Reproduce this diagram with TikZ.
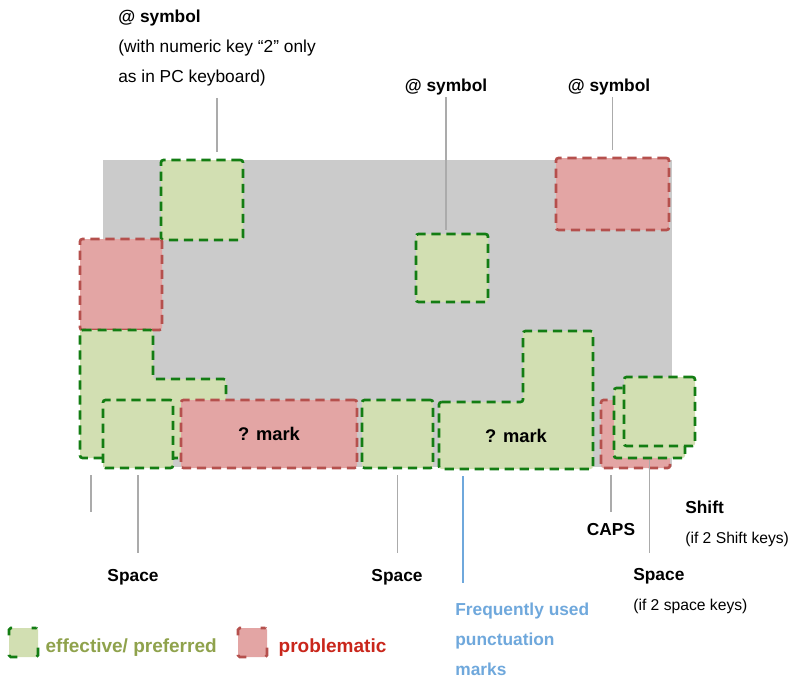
\documentclass[tikz,border=0pt]{standalone}
\usepackage{fontspec}
\setmainfont{Liberation Sans}
\usetikzlibrary{positioning,fit}
\definecolor{keygray}{HTML}{CBCBCB}
\definecolor{goodfill}{HTML}{D2DFB2}
\definecolor{gooddraw}{HTML}{137D13}
\definecolor{badfill}{HTML}{E3A5A4}
\definecolor{baddraw}{HTML}{B5504D}
\definecolor{goodtext}{HTML}{8FA24C}
\definecolor{badtext}{HTML}{C9261B}
\definecolor{notetext}{HTML}{6FA8DC}
\definecolor{leadgray}{HTML}{ABABAB}
\tikzset{keybase/.style={line width=1.6pt,dash pattern=on 5.5pt off 3.5pt,rounded corners=1.5pt},
 goodkey/.style={keybase,draw=gooddraw,fill=goodfill},badkey/.style={keybase,draw=baddraw,fill=badfill},
 keyfit/.style={inner sep=0pt,outer sep=0pt},lead/.style={draw=leadgray,line width=0.9pt},
 tag/.style={font=\fontsize{10.4}{18}\selectfont\bfseries,inner sep=0pt},
 keylabel/.style={font=\fontsize{11}{14}\selectfont\bfseries,inner sep=0pt},
 memo/.style={font=\fontsize{#1}{18}\selectfont,inner sep=0pt,align=left,anchor=north west},
 swatch/.style={line width=1.6pt,rounded corners=1pt,minimum size=17.4pt,inner sep=0pt,
  dash pattern=on 2.9pt off 11.6pt on 2.9pt off 0pt},
 legendtext/.style={font=\fontsize{11.4}{14}\selectfont\bfseries,inner sep=0pt}}
\newcommand\tagline[1]{{\fontsize{10.4}{18}\selectfont\bfseries #1}}

\begin{document}
\begin{tikzpicture}[x=0.6pt,y=-0.6pt]
\useasboundingbox (0,0) rectangle (790,680);
% keyboard
\fill[keygray] (103,160) rectangle (672,467);
\node[goodkey,keyfit,fit={(161,160)(243,240)}] (atone) {};
\node[badkey,keyfit,fit={(556,158)(669,230)}] (atthree) {};
\node[goodkey,keyfit,fit={(416,234)(488,302)}] (attwo) {};
\node[badkey,keyfit,fit={(80,239)(162,330)}] (tabkey) {};
\draw[goodkey] (80,330) -- (153,330) -- (153,379) -- (226,379) -- (226,458) -- (80,458) -- cycle;
\node[goodkey,keyfit,fit={(103,400)(173,468)}] (spaceone) {};
\node[badkey,keyfit,fit={(181,400)(357,468)}] (qmarkone) {};
\node[keylabel] (qmarkonetag) at (qmarkone.center) {? mark};
\node[goodkey,keyfit,fit={(362,400)(433,468)}] (spacetwo) {};
\draw[goodkey] (439,402) -- (523,402) -- (523,331) -- (593,331) -- (593,469) -- (439,469) -- cycle;
\node[keylabel] (qmarktwotag) at (516,436) {? mark};
\node[badkey,keyfit,fit={(601,400)(670,468)}] (capskey) {};
\node[goodkey,keyfit,fit={(614,388)(685,458)}] (shifta) {};
\node[goodkey,keyfit,fit={(624,377)(695,446)}] (shiftb) {};
\coordinate (qmarkbase) at (463,469);
\coordinate (lstub) at (91,475);
\coordinate (lstubend) at (91,512);

% labels above
\node[memo=10.4] (atonetag) at (118,10) {\tagline{@ symbol}\\(with numeric key “2” only\\as in PC keyboard)};
\node[tag] (attwotag) at (446,87) {@ symbol};
\node[tag] (atthreetag) at (609,87) {@ symbol};
\draw[lead,shorten <=6.6pt,shorten >=4.8pt] (atonetag.south) -- (atonetag.south |- atone.north);
\draw[lead,shorten <=1.2pt,shorten >=2.4pt] (attwotag.south) -- (attwotag.south |- attwo.north);
\draw[lead,shorten <=1.2pt,shorten >=4.8pt] (atthree.north |- atthreetag.south) -- (atthree.north);

% labels below
\node[tag] (spaceonetag) at (133,577) {Space};
\node[tag] (spacetwotag) at (397,577) {Space};
\node[tag] (capstag) at (611,530) {CAPS};
\node[memo=9.4] (shifttag) at (685,501) {\tagline{Shift}\\(if 2 Shift keys)};
\node[memo=9.4] (spacethreetag) at (633,568) {\tagline{Space}\\(if 2 space keys)};
\node[memo=10.4,font=\fontsize{10.4}{18}\selectfont\bfseries,text=notetext] (punctag) at (455,603)
 {Frequently used\\punctuation\\marks};
\draw[lead] (lstub) -- (lstubend);
\draw[lead,shorten <=4.2pt,shorten >=9.6pt] (spaceone.south) -- (spaceone.south |- spaceonetag.north);
\draw[lead,shorten <=4.2pt,shorten >=9.6pt] (spacetwo.south) -- (spacetwo.south |- spacetwotag.north);
\draw[lead,draw=notetext,shorten <=4.2pt,shorten >=12pt] (qmarkbase) -- (qmarkbase |- punctag.north);
\draw[lead,shorten <=7pt,shorten >=4.2pt] (capstag.north) -- (capstag.north |- capskey.south);
\draw[lead,shorten <=1.2pt,shorten >=9pt] (shifta.south) -- (shifta.south |- spacethreetag.north);

% legend
\node[swatch,draw=gooddraw,fill=goodfill] (goodswatch) at (23.5,642.5) {};
\node[legendtext,text=goodtext,right=3.6pt of goodswatch,yshift=-3pt] (goodlegend) {effective/ preferred};
\node[swatch,draw=baddraw,fill=badfill] (badswatch) at (252.5,642.5) {};
\node[legendtext,text=badtext,right=6pt of badswatch,yshift=-3pt] (badlegend) {problematic};
\end{tikzpicture}
\end{document}
